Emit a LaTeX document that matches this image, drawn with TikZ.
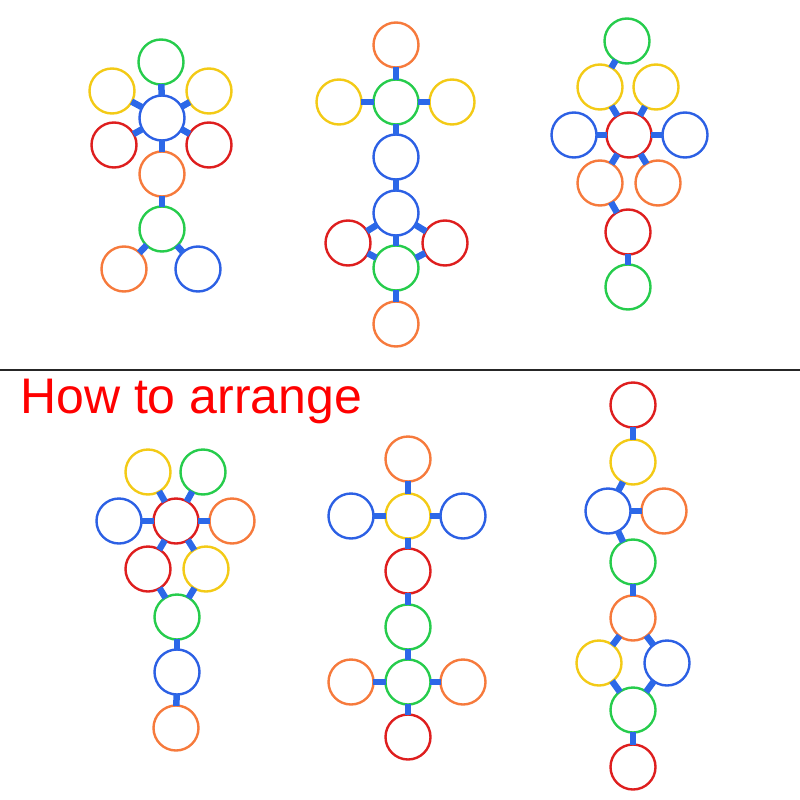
\documentclass[tikz,border=0pt]{standalone}
\usepackage{fontspec}
\setmainfont{Liberation Sans}
\definecolor{ringgreen}{RGB}{38,204,76}
\definecolor{ringyellow}{RGB}{243,202,22}
\definecolor{ringorange}{RGB}{246,122,60}
\definecolor{ringred}{RGB}{222,30,30}
\definecolor{ringblue}{RGB}{44,96,228}
\definecolor{barblue}{RGB}{44,104,232}
\begin{document}
\begin{tikzpicture}[x=1pt,y=-1pt,
    ring/.style={draw=#1,circle,line width=2.4pt,minimum size=45pt,inner sep=0pt},
    bar/.style={draw=barblue,line width=6.5pt,shorten <=-1.5pt,shorten >=-1.5pt}]
            \useasboundingbox (0,0) rectangle (800,800);
            % top left
            \draw (161,62) node[ring=ringgreen] (a1) {};
            \draw (112,91) node[ring=ringyellow] (a2) {};
            \draw (209,91) node[ring=ringyellow] (a3) {};
            \draw (162,118) node[ring=ringblue] (a4) {};
            \draw (114,145) node[ring=ringred] (a5) {};
            \draw (209,145) node[ring=ringred] (a6) {};
            \draw (162,174) node[ring=ringorange] (a7) {};
            \draw (162,229) node[ring=ringgreen] (a8) {};
            \draw (124,269) node[ring=ringorange] (a9) {};
            \draw (198,269) node[ring=ringblue] (a10) {};
            % top middle
            \draw (396,45) node[ring=ringorange] (b1) {};
            \draw (396,102) node[ring=ringgreen] (b2) {};
            \draw (339,102) node[ring=ringyellow] (b3) {};
            \draw (452,102) node[ring=ringyellow] (b4) {};
            \draw (396,157) node[ring=ringblue] (b5) {};
            \draw (396,213) node[ring=ringblue] (b6) {};
            \draw (348,243) node[ring=ringred] (b7) {};
            \draw (445,243) node[ring=ringred] (b8) {};
            \draw (396,268) node[ring=ringgreen] (b9) {};
            \draw (396,324) node[ring=ringorange] (b10) {};
            % top right
            \draw (627,41) node[ring=ringgreen] (c1) {};
            \draw (600,87) node[ring=ringyellow] (c2) {};
            \draw (656,87) node[ring=ringyellow] (c3) {};
            \draw (629,135) node[ring=ringred] (c4) {};
            \draw (574,135) node[ring=ringblue] (c5) {};
            \draw (685,135) node[ring=ringblue] (c6) {};
            \draw (600,183) node[ring=ringorange] (c7) {};
            \draw (658,183) node[ring=ringorange] (c8) {};
            \draw (628,232) node[ring=ringred] (c9) {};
            \draw (628,287) node[ring=ringgreen] (c10) {};

            \draw[gray!30!black,line width=1.2pt] (0,370) coordinate (sepl) -- (800,370) coordinate (sepr);
            \draw (20,413) node[anchor=base west,inner sep=0pt,text=red,font=\fontsize{50}{50}\selectfont] (title) {How to arrange};

            % bottom left
            \draw (148,472) node[ring=ringyellow] (d1) {};
            \draw (203,472) node[ring=ringgreen] (d2) {};
            \draw (119,521) node[ring=ringblue] (d3) {};
            \draw (176,521) node[ring=ringred] (d4) {};
            \draw (232,521) node[ring=ringorange] (d5) {};
            \draw (148,569) node[ring=ringred] (d6) {};
            \draw (206,569) node[ring=ringyellow] (d7) {};
            \draw (177,617) node[ring=ringgreen] (d8) {};
            \draw (177,672) node[ring=ringblue] (d9) {};
            \draw (176,728) node[ring=ringorange] (d10) {};
            % bottom middle
            \draw (408,459) node[ring=ringorange] (e1) {};
            \draw (408,516) node[ring=ringyellow] (e2) {};
            \draw (351,516) node[ring=ringblue] (e3) {};
            \draw (463,516) node[ring=ringblue] (e4) {};
            \draw (408,571) node[ring=ringred] (e5) {};
            \draw (408,627) node[ring=ringgreen] (e6) {};
            \draw (408,682) node[ring=ringgreen] (e7) {};
            \draw (351,682) node[ring=ringorange] (e8) {};
            \draw (463,682) node[ring=ringorange] (e9) {};
            \draw (408,737) node[ring=ringred] (e10) {};
            % bottom right
            \draw (633,405) node[ring=ringred] (f1) {};
            \draw (633,462) node[ring=ringyellow] (f2) {};
            \draw (608,511) node[ring=ringblue] (f3) {};
            \draw (664,511) node[ring=ringorange] (f4) {};
            \draw (633,562) node[ring=ringgreen] (f5) {};
            \draw (633,618) node[ring=ringorange] (f6) {};
            \draw (599,663) node[ring=ringyellow] (f7) {};
            \draw (667,663) node[ring=ringblue] (f8) {};
            \draw (633,710) node[ring=ringgreen] (f9) {};
            \draw (633,767) node[ring=ringred] (f10) {};

            \draw[bar] (a4) -- (a1);
            \draw[bar] (a4) -- (a2);
            \draw[bar] (a4) -- (a3);
            \draw[bar] (a4) -- (a5);
            \draw[bar] (a4) -- (a6);
            \draw[bar] (a4) -- (a7);
            \draw[bar] (a7) -- (a8);
            \draw[bar] (a8) -- (a9);
            \draw[bar] (a8) -- (a10);

            \draw[bar] (b1) -- (b2);
            \draw[bar] (b2) -- (b3);
            \draw[bar] (b2) -- (b4);
            \draw[bar] (b2) -- (b5);
            \draw[bar] (b5) -- (b6);
            \draw[bar] (b6) -- (b7);
            \draw[bar] (b6) -- (b8);
            \draw[bar] (b6) -- (b9);
            \draw[bar] (b7) -- (b9);
            \draw[bar] (b8) -- (b9);
            \draw[bar] (b9) -- (b10);

            \draw[bar] (c1) -- (c2);
            \draw[bar] (c2) -- (c4);
            \draw[bar] (c3) -- (c4);
            \draw[bar] (c4) -- (c5);
            \draw[bar] (c4) -- (c6);
            \draw[bar] (c4) -- (c7);
            \draw[bar] (c4) -- (c8);
            \draw[bar] (c7) -- (c9);
            \draw[bar] (c9) -- (c10);

            \draw[bar] (d4) -- (d1);
            \draw[bar] (d4) -- (d2);
            \draw[bar] (d4) -- (d3);
            \draw[bar] (d4) -- (d5);
            \draw[bar] (d4) -- (d6);
            \draw[bar] (d4) -- (d7);
            \draw[bar] (d6) -- (d8);
            \draw[bar] (d7) -- (d8);
            \draw[bar] (d8) -- (d9);
            \draw[bar] (d9) -- (d10);

            \draw[bar] (e1) -- (e2);
            \draw[bar] (e2) -- (e3);
            \draw[bar] (e2) -- (e4);
            \draw[bar] (e2) -- (e5);
            \draw[bar] (e5) -- (e6);
            \draw[bar] (e6) -- (e7);
            \draw[bar] (e7) -- (e8);
            \draw[bar] (e7) -- (e9);
            \draw[bar] (e7) -- (e10);

            \draw[bar] (f1) -- (f2);
            \draw[bar] (f2) -- (f3);
            \draw[bar] (f3) -- (f4);
            \draw[bar] (f3) -- (f5);
            \draw[bar] (f5) -- (f6);
            \draw[bar] (f6) -- (f7);
            \draw[bar] (f6) -- (f8);
            \draw[bar] (f7) -- (f9);
            \draw[bar] (f8) -- (f9);
            \draw[bar] (f9) -- (f10);
        \end{tikzpicture}
\end{document}
